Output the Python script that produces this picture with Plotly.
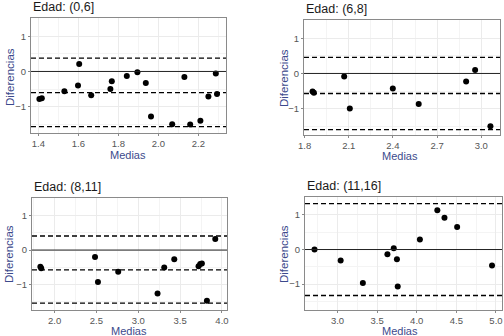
import plotly.graph_objects as go

# ---- data ----
titles = ["Edad: (0,6]", "Edad: (6,8]", "Edad: (8,11]", "Edad: (11,16]"]
x_title = "Medias"
y_title = "Diferencias"

p1_x = [1.405, 1.417, 1.53, 1.598, 1.604, 1.664, 1.76, 1.767, 1.842, 1.895, 1.937, 1.963, 2.069, 2.13, 2.159, 2.21, 2.25, 2.287, 2.293]
p1_y = [-0.78, -0.76, -0.56, -0.40, 0.21, -0.68, -0.50, -0.28, -0.13, -0.02, -0.33, -1.28, -1.50, -0.16, -1.51, -1.40, -0.71, -0.06, -0.64]

p2_x = [1.854, 1.863, 2.069, 2.107, 2.399, 2.575, 2.897, 2.958, 3.062]
p2_y = [-0.51, -0.55, -0.09, -1.00, -0.43, -0.87, -0.23, 0.10, -1.50]

p3_x = [1.83, 1.84, 2.483, 2.518, 2.76, 3.23, 3.31, 3.43, 3.72, 3.74, 3.76, 3.82, 3.92]
p3_y = [-0.49, -0.53, -0.20, -0.93, -0.63, -1.27, -0.51, -0.27, -0.47, -0.41, -0.39, -1.48, 0.32]

p4_x = [2.71, 3.04, 3.32, 3.63, 3.71, 3.75, 3.76, 4.04, 4.26, 4.35, 4.51, 4.95]
p4_y = [0.00, -0.32, -0.97, -0.14, 0.04, -0.28, -1.07, 0.29, 1.14, 0.92, 0.65, -0.46]

p1_lines = [0.38, -0.60, -1.57]
p2_lines = [0.46, -0.57, -1.60]
p3_lines = [0.41, -0.58, -1.55]
p4_lines = [1.33, -1.33]

xs = [p1_x, p2_x, p3_x, p4_x]
ys = [p1_y, p2_y, p3_y, p4_y]
hlines = [p1_lines, p2_lines, p3_lines, p4_lines]

x_ranges = [[1.363, 2.338], [1.796, 3.127], [1.73, 4.06], [2.59, 5.076]]
x_dticks = [0.2, 0.3, 0.5, 0.5]
x_tick0 = [1.4, 1.8, 2.0, 3.0]
y_range = [-1.75, 1.52]

# ---- layout geometry (window pixels) ----
W, H = 504, 336
boxes = [(31, 226, 18, 133), (304, 500, 20, 135), (32, 227, 198, 310), (305, 502, 197, 310)]
xtitle_pos = [(128, 155), (400, 156), (129, 330.5), (400, 330.5)]
ytitle_pos = [(10, 77), (284, 78), (9, 254), (284, 254)]


def fx(px):
    return px / W


def fy(py):
    return 1 - py / H


fig = go.Figure()
axis_title_color = "#3c4a8c"
tick_color = "#555555"
grid_color = "#ebebeb"
border_color = "#8a8a8a"
FONT = "Liberation Sans, Arial"

for i in range(4):
    n = "" if i == 0 else str(i + 1)
    xa = "x" + n
    ya = "y" + n
    x0, x1, y0, y1 = boxes[i]
    fig.add_trace(go.Scatter(x=xs[i], y=ys[i], mode="markers",
                             marker=dict(color="black", size=6),
                             xaxis=xa, yaxis=ya, showlegend=False, hoverinfo="skip"))
    common = dict(showline=True, linecolor=border_color, linewidth=1, mirror=True,
                  showgrid=True, gridcolor=grid_color, gridwidth=1,
                  ticks="outside", ticklen=2, tickcolor=border_color,
                  tickfont=dict(size=9.5, color=tick_color, family=FONT),
                  zeroline=False, automargin=False)
    fig.layout["xaxis" + n] = dict(
        domain=[fx(x0), fx(x1)], range=x_ranges[i], anchor=ya,
        tick0=x_tick0[i], dtick=x_dticks[i], tickformat=".1f",
        minor=dict(dtick=x_dticks[i] / 2, tick0=x_tick0[i], showgrid=True, gridcolor="#f4f4f4", ticks=""),
        **common)
    fig.layout["yaxis" + n] = dict(
        domain=[fy(y1), fy(y0)], range=y_range, anchor=xa,
        tickvals=[-1, 0, 1], ticktext=["\u22121", "0", "1"],
        minor=dict(tickvals=[-1.5, -0.5, 0.5, 1.5], showgrid=True, gridcolor="#f4f4f4", ticks=""),
        **common)
    # zero reference line
    fig.add_shape(type="line", xref=xa + " domain", yref=ya, x0=0, x1=1, y0=0, y1=0,
                  line=dict(color="#222222", width=1))
    for v in hlines[i]:
        fig.add_shape(type="line", xref=xa + " domain", yref=ya, x0=0, x1=1, y0=v, y1=v,
                      line=dict(color="black", width=1.3, dash="5px,3px"))
    fig.add_annotation(text=titles[i], xref="paper", yref="paper",
                       x=fx(x0), y=fy(y0 - 2), xanchor="left", yanchor="bottom",
                       showarrow=False,
                       font=dict(size=12.5, color="#1a1a1a", family=FONT))
    tx, ty = xtitle_pos[i]
    fig.add_annotation(text=x_title, xref="paper", yref="paper",
                       x=fx(tx), y=fy(ty), xanchor="center", yanchor="middle",
                       showarrow=False,
                       font=dict(size=11, color=axis_title_color, family=FONT))
    tx, ty = ytitle_pos[i]
    fig.add_annotation(text=y_title, xref="paper", yref="paper", textangle=-90,
                       x=fx(tx), y=fy(ty), xanchor="center", yanchor="middle",
                       showarrow=False,
                       font=dict(size=11.5, color=axis_title_color, family=FONT))

fig.update_layout(width=W, height=H, margin=dict(l=0, r=0, t=0, b=0),
                  plot_bgcolor="white", paper_bgcolor="white", hovermode=False)
fig.write_html("out.html", config={"displayModeBar": False},
               post_script="document.body.style.margin='0';")
